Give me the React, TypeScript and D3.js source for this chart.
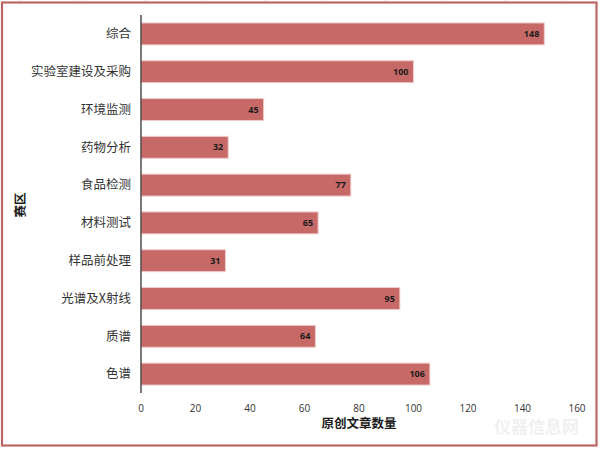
import React from "react";
import * as d3 from "d3";

const categories = ["综合", "实验室建设及采购", "环境监测", "药物分析", "食品检测", "材料测试", "样品前处理", "光谱及X射线", "质谱", "色谱"];
const values = [148, 100, 45, 32, 77, 65, 31, 95, 64, 106];
const xTicks = [0, 20, 40, 60, 80, 100, 120, 140, 160];
const xTitle = "原创文章数量";
const yTitle = "赛区";

const W = 600;
const H = 449;
const cjk = "'Noto Sans CJK SC', 'Noto Sans', sans-serif";
const num = "'Open Sans', 'Noto Sans', sans-serif";

export default function App() {
  const x = d3.scaleLinear().domain([0, 160]).range([141, 577]);
  const y = d3.scaleBand<string>().domain(categories).range([15, 393]).paddingInner(0.42).paddingOuter(0.21);
  const bw = y.bandwidth();
  return (
    <svg width={W} height={H} style={{ position: "absolute", left: 0, top: 0, background: "#fff" }}>
      {[20, 80, 145, 205, 265, 325, 385, 445, 505, 565].map((gx) => (
        <line key={gx} x1={gx} x2={gx} y1={0} y2={2} stroke="#e6e6e6" />
      ))}
      <rect x={2} y={2.5} width={594.5} height={443} fill="#fff" stroke="#b96765" strokeWidth={2.2} />
      {/* watermark */}
      <g opacity={0.12} fill="#888" fontFamily={cjk} fontWeight="bold">
        <text x={494} y={433} fontSize={17}>仪器信息网</text>
      </g>
      {categories.map((c, i) => (
        <g key={c}>
          <rect
            x={x(0)}
            y={y(c)!}
            width={x(values[i]) - x(0)}
            height={bw}
            fill="#c76a67"
            stroke="#f2cccc"
            strokeWidth={1}
          />
          <text
            x={x(values[i]) - 5}
            y={y(c)! + bw / 2}
            dy="0.35em"
            textAnchor="end"
            fontSize={9}
            fontWeight="bold"
            fontFamily={num}
            fill="#1a1a1a"
          >
            {values[i]}
          </text>
          <text
            x={131}
            y={y(c)! + bw / 2}
            dy="0.35em"
            textAnchor="end"
            fontSize={12.5}
            fontFamily={cjk}
            fill="#333"
          >
            {c}
          </text>
        </g>
      ))}
      <line x1={141} x2={141} y1={15} y2={393} stroke="#333" strokeWidth={1.3} />
      {xTicks.map((t) => (
        <text key={t} x={x(t)} y={408} dy="0.35em" textAnchor="middle" fontSize={10} fontFamily={num} fill="#333">
          {t}
        </text>
      ))}
      <text x={359} y={424} dy="0.35em" textAnchor="middle" fontSize={12.5} fontWeight="bold" fontFamily={cjk} fill="#1a1a1a">
        {xTitle}
      </text>
      <text
        transform="translate(21,205) rotate(-90)"
        dy="0.35em"
        textAnchor="middle"
        fontSize={12.5}
        fontWeight="bold"
        fontFamily={cjk}
        fill="#1a1a1a"
      >
        {yTitle}
      </text>
    </svg>
  );
}
